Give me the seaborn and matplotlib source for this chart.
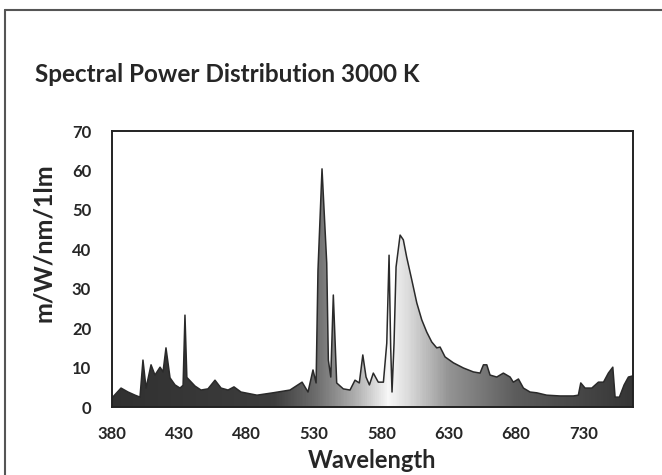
import numpy as np
import pandas as pd
import matplotlib
matplotlib.use("Agg")
import matplotlib.pyplot as plt
from matplotlib.colors import LinearSegmentedColormap
from matplotlib.lines import Line2D
import seaborn as sns

# spectrum (nm, relative power)
wavelength = [380.0, 386.7, 391.9, 397.1, 400.8, 403.0, 405.3, 409.0, 411.9, 415.7,
              417.9, 420.1, 423.1, 426.8, 430.5, 432.8, 434.2, 435.6, 441.7, 446.1,
              451.3, 456.5, 461.0, 466.2, 470.6, 475.8, 487.7, 499.6, 512.2, 521.2,
              525.6, 529.3, 531.6, 533.0, 536.0, 539.5, 540.7, 542.5, 544.4, 546.9,
              551.8, 556.8, 560.5, 563.7, 566.3, 568.7, 571.2, 574.1, 577.8, 581.6,
              584.1, 585.8, 587.0, 588.0, 589.5, 591.0, 594.0, 596.4, 598.9, 602.7,
              606.4, 610.1, 613.8, 617.5, 621.2, 623.7, 627.4, 633.6, 641.0, 648.4,
              653.4, 655.9, 658.4, 660.8, 665.8, 670.7, 675.7, 678.1, 681.9, 685.6,
              690.5, 695.5, 702.9, 712.8, 722.7, 726.4, 728.2, 731.4, 736.4, 741.3,
              745.1, 748.7, 752.0, 753.7, 756.9, 760.4, 763.6, 767.0]
power = [2.3, 4.8, 3.8, 3.0, 2.5, 11.9, 4.8, 10.7, 8.1, 10.1,
         8.9, 15.0, 7.4, 5.6, 4.8, 5.5, 23.3, 7.5, 5.3, 4.3,
         4.6, 6.8, 4.8, 4.3, 5.1, 3.8, 3.0, 3.6, 4.3, 6.3,
         3.8, 9.4, 6.1, 34.7, 60.4, 36.5, 11.9, 7.6, 28.4, 6.1,
         4.6, 4.3, 6.8, 6.1, 13.2, 7.6, 5.6, 8.6, 6.3, 6.3,
         16.2, 38.5, 15.2, 3.8, 16.2, 35.5, 43.6, 42.4, 38.0, 32.2,
         26.4, 22.1, 19.0, 16.5, 15.0, 15.2, 12.7, 11.2, 9.9, 8.9,
         8.6, 10.7, 10.7, 8.1, 7.6, 8.6, 7.6, 6.3, 7.1, 4.8,
         3.8, 3.6, 3.0, 2.8, 2.8, 3.0, 6.1, 4.8, 4.8, 6.3,
         6.3, 8.6, 10.1, 2.5, 2.5, 5.6, 7.6, 7.9]

x_ticks = [380, 430, 480, 530, 580, 630, 680, 730]
y_ticks = [0, 10, 20, 30, 40, 50, 60, 70]

# grey shading under the curve: dark - white near 585 nm - dark
shade_pos = [380, 500, 530, 560, 585, 600, 630, 680, 767]
shade_val = [0.19, 0.24, 0.42, 0.68, 0.97, 0.86, 0.58, 0.36, 0.21]

df = pd.DataFrame({"Wavelength": wavelength, "Power": power})

sns.set_theme(style="white")
plt.rcParams["font.family"] = ["Lato", "DejaVu Sans"]

fig = plt.figure(figsize=(6.62, 4.75), dpi=100)
ax = fig.add_axes([112 / 662, 1 - 407 / 475, 521 / 662, 276 / 475])

x0, x1 = 380, 767
ax.set_xlim(x0, x1)
ax.set_ylim(0, 70)

fill = ax.fill_between(df["Wavelength"], 0, df["Power"], color="none", lw=0)
stops = [(p - x0) / (x1 - x0) for p in shade_pos]
cmap = LinearSegmentedColormap.from_list(
    "spd", [(s, (v, v, v)) for s, v in zip(stops, shade_val)])
grad = np.linspace(0, 1, 600).reshape(1, -1)
img = ax.imshow(grad, extent=[x0, x1, 0, 70], aspect="auto", cmap=cmap,
                origin="lower", zorder=1)
img.set_clip_path(fill.get_paths()[0], transform=ax.transData)

sns.lineplot(data=df, x="Wavelength", y="Power", color="#2a2a2a", lw=1.1,
             ax=ax, zorder=2)

ax.set_xticks(x_ticks)
ax.set_yticks(y_ticks)
ax.tick_params(length=0, labelsize=12)
ax.tick_params(axis="x", pad=14)
ax.tick_params(axis="y", pad=15)
for lab in ax.get_xticklabels() + ax.get_yticklabels():
    lab.set_fontweight("bold")
ax.set_xlabel("")
ax.set_ylabel("")
for sp in ax.spines.values():
    sp.set_color("#222222")
    sp.set_linewidth(1.4)

fig.text(372 / 662, 1 - 461 / 475, "Wavelength", ha="center", va="center",
         fontsize=17, fontweight="bold")
fig.text(44 / 662, 1 - 243 / 475, "m/W/nm/1lm", ha="center", va="center",
         rotation=90, fontsize=18, fontweight="bold")
fig.text(35 / 662, 1 - 75 / 475, "Spectral Power Distribution 3000 K",
         ha="left", va="center", fontsize=17.5, fontweight="bold")

# partial frame around the whole graphic
fig.add_artist(Line2D([5 / 662, 1], [1 - 10 / 475, 1 - 10 / 475],
                      transform=fig.transFigure, color="#555555", lw=1.5))
fig.add_artist(Line2D([5 / 662, 5 / 662], [0, 1 - 10 / 475],
                      transform=fig.transFigure, color="#555555", lw=1.5))

fig.savefig("out.png", dpi=100)
